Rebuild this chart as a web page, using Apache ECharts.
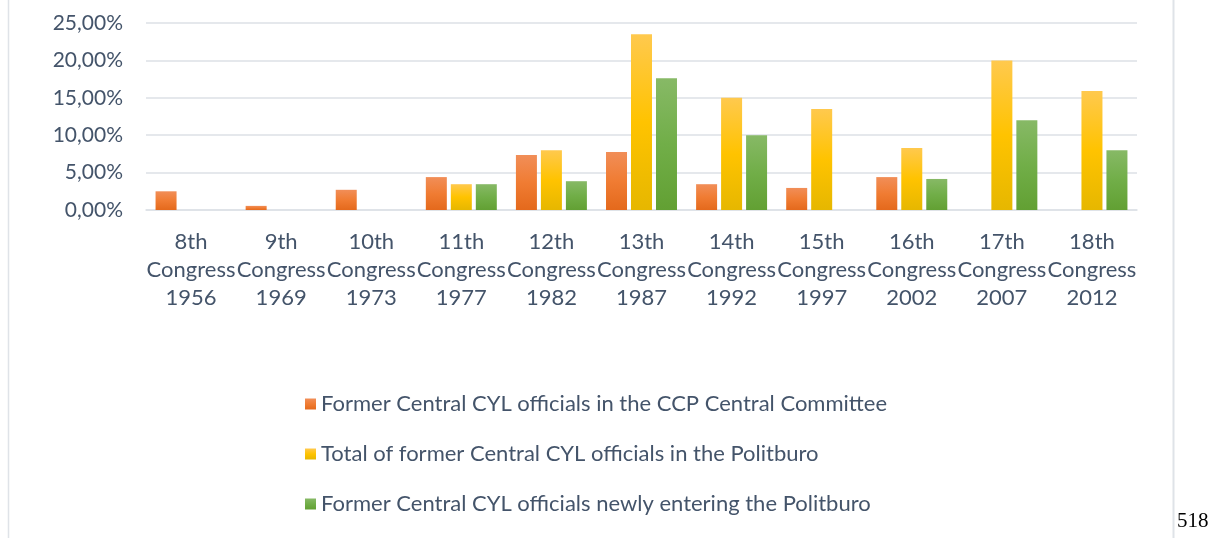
<!DOCTYPE html>
<html>
<head>
<meta charset="utf-8">
<script src="https://cdn.jsdelivr.net/npm/echarts@6/dist/echarts.min.js"></script>
<style>
  html, body { margin: 0; padding: 0; background: #ffffff; }
  #chart { width: 1213px; height: 538px; }
</style>
</head>
<body>
<div id="chart"></div>
<script>
// ---- data ----
var categories = [
  "8th\nCongress\n1956", "9th\nCongress\n1969", "10th\nCongress\n1973", "11th\nCongress\n1977",
  "12th\nCongress\n1982", "13th\nCongress\n1987", "14th\nCongress\n1992", "15th\nCongress\n1997",
  "16th\nCongress\n2002", "17th\nCongress\n2007", "18th\nCongress\n2012"
];
var seriesNames = [
  "Former Central CYL officials in the CCP Central Committee",
  "Total of former Central CYL officials in the Politburo",
  "Former Central CYL officials newly entering the Politburo"
];
var centralCommittee = [2.5, 0.55, 2.7, 4.4, 7.35, 7.75, 3.45, 2.95, 4.4, 0, 0];
var politburoTotal   = [0, 0, 0, 3.45, 8.0, 23.5, 15.0, 13.5, 8.3, 20.0, 15.9];
var politburoNew     = [0, 0, 0, 3.45, 3.85, 17.6, 10.0, 0, 4.15, 12.0, 8.0];
var yTicks = { min: 0, max: 25, interval: 5 };
var pageNumber = "518";

var FONT = "Lato";
var TXT = "#44546a";

function grad(top, mid, bottom) {
  return new echarts.graphic.LinearGradient(0, 0, 0, 1, [
    { offset: 0, color: top }, { offset: 0.5, color: mid }, { offset: 1, color: bottom }
  ]);
}
var colors = [
  grad("#f18e58", "#f07c33", "#e4691c"),
  grad("#ffc94e", "#ffc300", "#e6b700"),
  grad("#87b966", "#71ae48", "#62a033")
];
var seriesData = [centralCommittee, politburoTotal, politburoNew];

var chart = echarts.init(document.getElementById("chart"), null, { renderer: "canvas" });
chart.setOption({
  backgroundColor: "#ffffff",
  animation: false,
  textStyle: { fontFamily: FONT },
  grid: { left: 146, right: 76, top: 23, bottom: 328, containLabel: false },
  xAxis: {
    type: "category",
    data: categories,
    axisTick: { show: false },
    axisLine: { show: true, lineStyle: { color: "#dde1e6", width: 1.5 } },
    axisLabel: { color: TXT, fontFamily: FONT, fontSize: 22, lineHeight: 28, margin: 18, interval: 0 }
  },
  yAxis: {
    type: "value",
    min: yTicks.min, max: yTicks.max, interval: yTicks.interval,
    axisLine: { show: false },
    axisTick: { show: false },
    splitLine: { lineStyle: { color: "#dde1e6", width: 1.5 } },
    axisLabel: {
      color: TXT, fontFamily: FONT, fontSize: 21, margin: 23,
      formatter: function (v) { return v.toFixed(2).replace(".", ",") + "%"; }
    }
  },
  legend: {
    orient: "vertical",
    left: 305, top: 392, padding: 0,
    itemWidth: 11, itemHeight: 11, itemGap: 26,
    icon: "rect",
    textStyle: { color: TXT, fontFamily: FONT, fontSize: 22, lineHeight: 24, padding: [0, 0, 0, 0] },
    data: seriesNames
  },
  series: seriesNames.map(function (n, i) {
    return {
      name: n, type: "bar", data: seriesData[i],
      barWidth: 21, barGap: "19%",
      itemStyle: { color: colors[i] }
    };
  }),
  graphic: [
    { type: "line", shape: { x1: 8.5, y1: 0, x2: 8.5, y2: 538 }, style: { stroke: "#dfe3e8", lineWidth: 1.5 } },
    { type: "line", shape: { x1: 1173.5, y1: 0, x2: 1173.5, y2: 538 }, style: { stroke: "#dfe3e8", lineWidth: 2 } },
    { type: "text", left: 1177, top: 511, style: { text: pageNumber, fill: "#000", font: "21px 'Liberation Serif'" } }
  ]
});
</script>
</body>
</html>
